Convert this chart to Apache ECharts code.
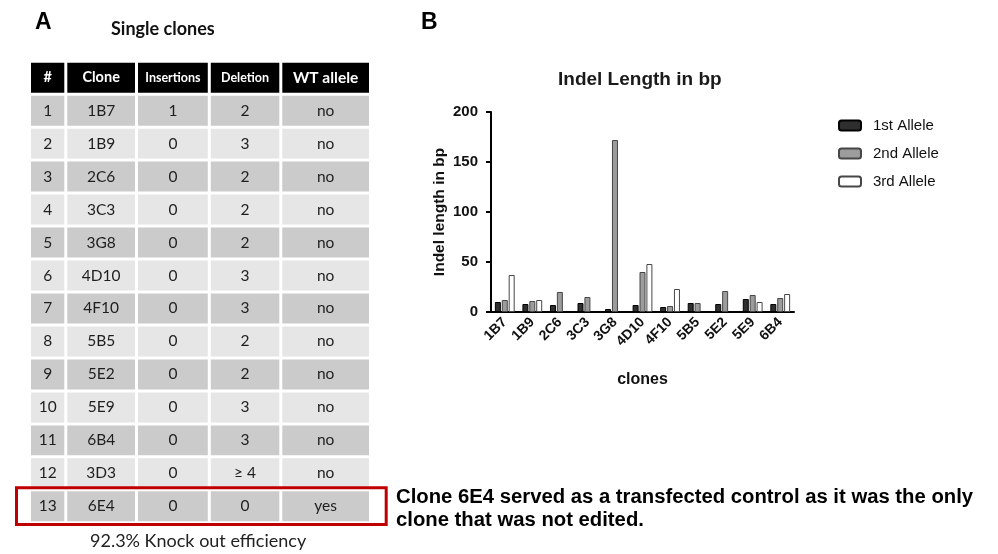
<!DOCTYPE html>
<html><head><meta charset="utf-8">
<script src="https://cdn.jsdelivr.net/npm/echarts@6/dist/echarts.min.js"></script>
<style>html,body{margin:0;padding:0;background:#fff}#c{width:998px;height:554px}</style>
</head><body><div id="c"></div>
<script>
// ---- Bar chart data (panel B) ----
const clones = ['1B7','1B9','2C6','3C3','3G8','4D10','4F10','5B5','5E2','5E9','6B4'];
const allele1 = [10, 8, 7, 9, 3, 7, 5, 9, 8, 13, 8];
const allele2 = [12, 11, 20, 15, 172, 40, 6, 9, 21, 17, 14];
const allele3 = [37, 12, '-', '-', '-', 48, 23, '-', '-', 10, 18];
const seriesNames = ['1st Allele', '2nd Allele', '3rd Allele'];
const yMax = 200, yStep = 50;

// ---- Table data (panel A) ----
const tableHeader = ['#', 'Clone', 'Insertions', 'Deletion', 'WT allele'];
const rowNumbers = ['1','2','3','4','5','6','7','8','9','10','11','12','13'];
const tableClones = ['1B7','1B9','2C6','3C3','3G8','4D10','4F10','5B5','5E2','5E9','6B4','3D3','6E4'];
const insertions = ['1','0','0','0','0','0','0','0','0','0','0','0','0'];
const deletions = ['2','3','2','2','2','3','3','2','2','3','3','≥ 4','0'];
const wtAllele = ['no','no','no','no','no','no','no','no','no','no','no','no','yes'];
const highlightRow = 13;

// ---- layout constants ----
const colEdges = [0, 34.8, 105.5, 178.3, 249.8, 338];
const TW = colEdges[colEdges.length - 1];
const ARIAL = 'Arial, "Liberation Sans", sans-serif';
const CAL = 'Lato, "Open Sans", sans-serif';

const columns = [rowNumbers, tableClones, insertions, deletions, wtAllele];
const tableRows = ['h'].concat(rowNumbers);
const cellData = [];
for (let c = 0; c < 5; c++) {
  cellData.push({ value: [colEdges[c], 0, colEdges[c + 1], c], text: tableHeader[c] });
  for (let r = 0; r < rowNumbers.length; r++) {
    cellData.push({ value: [colEdges[c], r + 1, colEdges[c + 1], c], text: columns[c][r] });
  }
}

const chart = echarts.init(document.getElementById('c'), null, { renderer: 'canvas' });

const barStyles = [
  { color: '#2e2e2e', borderColor: '#000', borderWidth: 1 },
  { color: '#9c9c9c', borderColor: '#474747', borderWidth: 1 },
  { color: '#ffffff', borderColor: '#474747', borderWidth: 1 }
];
const barData = [allele1, allele2, allele3];

chart.setOption({
  animation: false,
  backgroundColor: '#fff',
  title: [
    { text: 'A', left: 35, top: 11, padding: 0, textStyle: { fontSize: 23, fontWeight: 'bold', fontFamily: ARIAL, color: '#000' } },
    { text: 'Single clones', left: 111, top: 20, padding: 0, textStyle: { fontSize: 18, fontWeight: 'bold', fontFamily: CAL, color: '#111' } },
    { text: 'B', left: 421, top: 11, padding: 0, textStyle: { fontSize: 23, fontWeight: 'bold', fontFamily: ARIAL, color: '#000' } },
    { text: 'Indel Length in bp', left: 558, top: 70, padding: 0, textStyle: { fontSize: 19, fontWeight: 'bold', fontFamily: ARIAL, color: '#1a1a1a' } },
    { text: '92.3% Knock out efficiency', left: 90, top: 532, padding: 0, textStyle: { fontSize: 18, fontWeight: 'normal', fontFamily: CAL, color: '#222' } },
    { text: 'Clone 6E4 served as a transfected control as it was the only\nclone that was not edited.', left: 396, top: 486, padding: 0,
      textStyle: { fontSize: 20.3, fontWeight: 'bold', fontFamily: ARIAL, color: '#000', lineHeight: 23 } }
  ],
  legend: {
    orient: 'vertical', left: 838, top: 118, padding: 0, itemWidth: 22, itemHeight: 10, itemGap: 13,
    data: seriesNames,
    textStyle: { fontSize: 15, fontFamily: ARIAL, color: '#111', padding: [0, 0, 0, 7] }
  },
  grid: [
    { left: 491, top: 112, width: 303, height: 200, containLabel: false },
    { left: 31, top: 61.2, width: TW, height: 461.6, containLabel: false }
  ],
  xAxis: [
    {
      gridIndex: 0, type: 'category', data: clones,
      axisLine: { lineStyle: { color: '#000', width: 2 } },
      axisTick: { alignWithLabel: true, length: 7, lineStyle: { color: '#000', width: 2 } },
      axisLabel: { rotate: 45, margin: 8, color: '#111', fontSize: 14, fontWeight: 'bold', fontFamily: ARIAL },
      name: 'clones', nameLocation: 'middle', nameGap: 60,
      nameTextStyle: { fontSize: 16, fontWeight: 'bold', fontFamily: ARIAL, color: '#111' }
    },
    { gridIndex: 1, type: 'value', min: 0, max: TW, show: false }
  ],
  yAxis: [
    {
      gridIndex: 0, type: 'value', min: 0, max: yMax, interval: yStep,
      splitLine: { show: false },
      axisLine: { show: true, lineStyle: { color: '#000', width: 2 } },
      axisTick: { show: true, length: 5, lineStyle: { color: '#000', width: 2 } },
      axisLabel: { margin: 13, color: '#111', fontSize: 15, fontWeight: 'bold', fontFamily: ARIAL },
      name: 'Indel length in bp', nameLocation: 'middle', nameGap: 43, nameRotate: 90,
      nameTextStyle: { fontSize: 15.5, fontWeight: 'bold', fontFamily: ARIAL, color: '#111' }
    },
    { gridIndex: 1, type: 'category', data: tableRows, inverse: true, show: false }
  ],
  series: seriesNames.map((n, i) => ({
    name: n, type: 'bar', xAxisIndex: 0, yAxisIndex: 0,
    data: barData[i], barWidth: 6, barGap: '15%',
    itemStyle: barStyles[i]
  })).concat([
    {
      type: 'custom', xAxisIndex: 1, yAxisIndex: 1, silent: true,
      data: cellData,
      renderItem: function (params, api) {
        const x0 = api.value(0), r = api.value(1), x1 = api.value(2), c = api.value(3);
        const p0 = api.coord([x0, r]), p1 = api.coord([x1, r]);
        const bandH = api.size([0, 1])[1];
        const h = bandH - 3;
        const left = p0[0] + (x0 > 0 ? 1.5 : 0);
        const right = p1[0] - (x1 < TW ? 1.5 : 0);
        const isHeader = r === 0;
        const fill = isHeader ? '#000' : (r % 2 === 1 ? '#cbcbcb' : '#e6e6e6');
        const item = cellData[params.dataIndex];
        let fsize = 15.5, fw = 'normal', tcol = '#1e1e1e';
        if (isHeader) {
          fw = 'bold'; tcol = '#fff';
          fsize = (c === 2 || c === 3) ? 12.5 : (c === 4 ? 15.5 : 14.5);
        }
        return {
          type: 'group',
          children: [
            { type: 'rect', shape: { x: left, y: p0[1] - h / 2, width: right - left, height: h }, style: { fill: fill } },
            { type: 'text', style: { text: item.text, x: (left + right) / 2, y: p0[1], align: 'center', verticalAlign: 'middle',
              fill: tcol, font: fw + ' ' + fsize + 'px ' + CAL } }
          ]
        };
      }
    },
    {
      type: 'custom', xAxisIndex: 1, yAxisIndex: 1, silent: true, z: 10,
      data: [[0, highlightRow, TW]],
      renderItem: function (params, api) {
        const r = api.value(1);
        const p0 = api.coord([api.value(0), r]), p1 = api.coord([api.value(2), r]);
        return {
          type: 'rect',
          shape: { x: p0[0] - 14.5, y: p0[1] - 18.6, width: (p1[0] - p0[0]) + 14.5 + 17.2, height: 36.8 },
          style: { fill: 'none', stroke: '#c00000', lineWidth: 3 }
        };
      }
    }
  ])
});
</script>
</body></html>
